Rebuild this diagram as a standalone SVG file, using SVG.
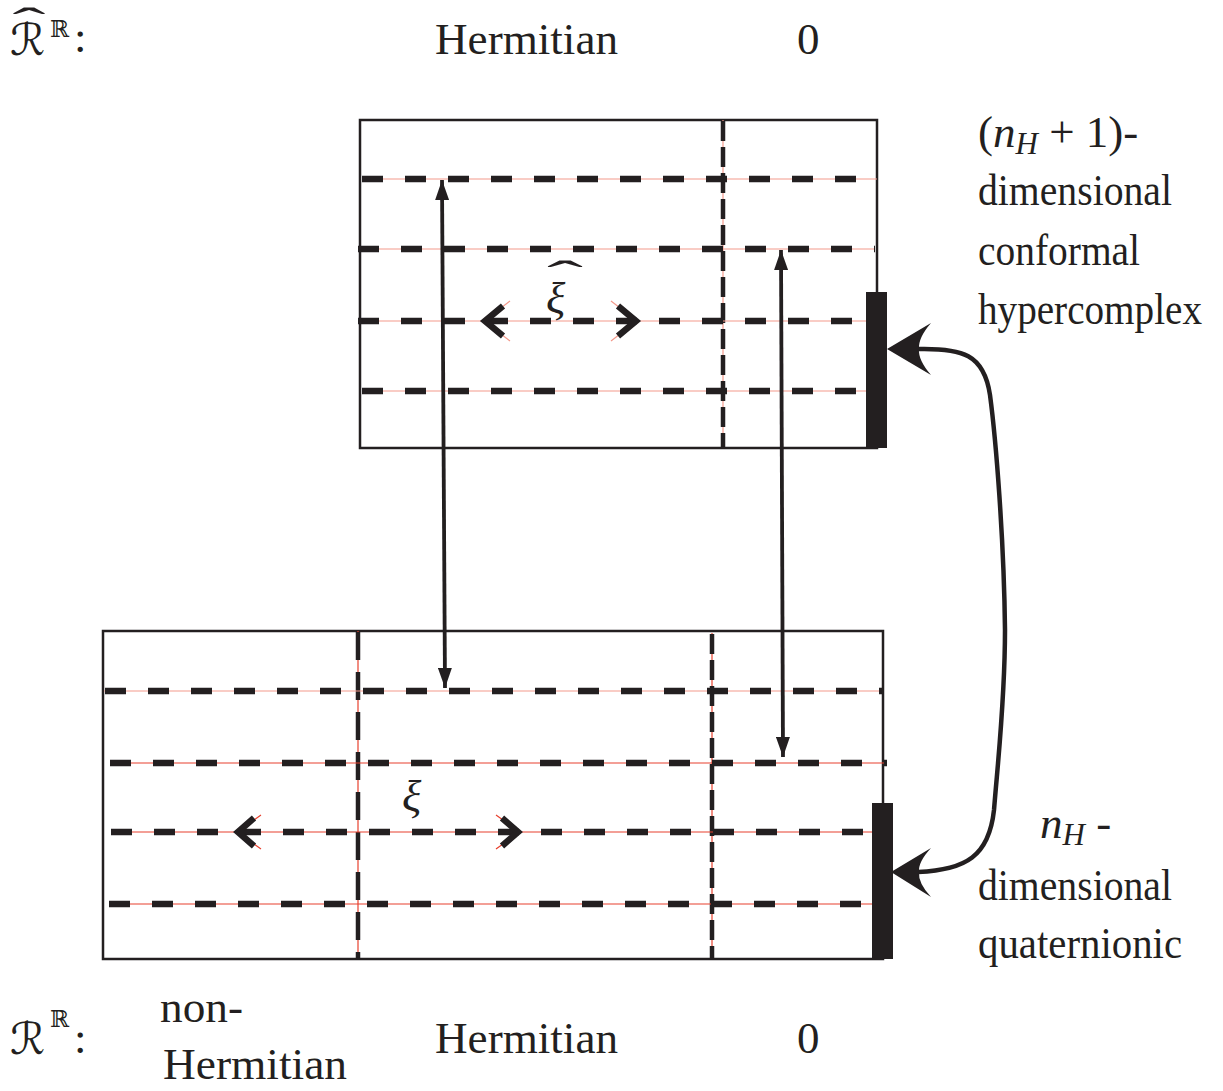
<svg xmlns="http://www.w3.org/2000/svg" width="1223" height="1091" viewBox="0 0 1223 1091">
<style>
.t{font-family:"Liberation Serif","Times New Roman",serif;font-size:45px;fill:#231f20}
.it{font-style:italic}
.sym{font-family:"DejaVu Serif","DejaVu Sans",serif;fill:#231f20}
.frame{fill:none;stroke:#231f20;stroke-width:2.5}
.bar{fill:#231f20}
.redt{stroke:#f39a8c;stroke-width:1.2;fill:none}
.redb{stroke:#e8412e;stroke-width:1.2;fill:none}
.hd{stroke:#231f20;stroke-width:6.5;stroke-dasharray:21 22;fill:none}
.vd{stroke:#231f20;stroke-width:4.5;stroke-dasharray:20 6;fill:none}
.vd2{stroke:#231f20;stroke-width:4.5;stroke-dasharray:28 12;fill:none}
.chev{stroke:#231f20;stroke-width:6.5;fill:none;stroke-linejoin:miter}
.conn{stroke:#231f20;stroke-width:3.8;fill:none}
.curve{stroke:#231f20;stroke-width:4.5;fill:none}
</style>
<defs>
<marker id="ah" viewBox="0 0 20 14" refX="20" refY="7" markerWidth="20" markerHeight="14" markerUnits="userSpaceOnUse" orient="auto-start-reverse">
<path d="M0,0 L20,7 L0,14 Z" fill="#231f20"/>
</marker>
</defs>
<rect width="1223" height="1091" fill="#ffffff"/>

<g id="labels-top">
<text class="sym" x="10" y="55" font-size="44" font-style="italic">ℛ</text>
<text class="t" transform="translate(29,38) scale(2.2,1)" text-anchor="middle" x="0" y="0">ˆ</text>
<text class="sym" x="50" y="37" font-size="23">ℝ</text>
<text class="t" x="74" y="52">:</text>
<text class="t" x="435" y="54" textLength="183" lengthAdjust="spacingAndGlyphs">Hermitian</text>
<text class="t" x="797" y="54">0</text>
</g>

<g id="labels-bottom">
<text class="sym" x="10" y="1054" font-size="44" font-style="italic">ℛ</text>
<text class="sym" x="50" y="1027" font-size="23">ℝ</text>
<text class="t" x="74" y="1053">:</text>
<text class="t" x="160" y="1022" textLength="83" lengthAdjust="spacingAndGlyphs">non-</text>
<text class="t" x="163" y="1079" textLength="184" lengthAdjust="spacingAndGlyphs">Hermitian</text>
<text class="t" x="435" y="1053" textLength="183" lengthAdjust="spacingAndGlyphs">Hermitian</text>
<text class="t" x="797" y="1053">0</text>
</g>

<g id="labels-right-top">
<text class="t" x="978" y="147">(<tspan class="it">n</tspan><tspan class="it" font-size="31" dy="7">H</tspan><tspan dy="-7"> + 1)-</tspan></text>
<text class="t" x="978" y="205" textLength="194" lengthAdjust="spacingAndGlyphs">dimensional</text>
<text class="t" x="978" y="265" textLength="162" lengthAdjust="spacingAndGlyphs">conformal</text>
<text class="t" x="978" y="324" textLength="224" lengthAdjust="spacingAndGlyphs">hypercomplex</text>
</g>

<g id="labels-right-bottom">
<text class="t" x="1040" y="838"><tspan class="it">n</tspan><tspan class="it" font-size="31" dy="7">H</tspan><tspan dy="-7"> -</tspan></text>
<text class="t" x="978" y="900" textLength="194" lengthAdjust="spacingAndGlyphs">dimensional</text>
<text class="t" x="978" y="958" textLength="204" lengthAdjust="spacingAndGlyphs">quaternionic</text>
</g>

<g id="top-box">
<rect class="frame" x="360" y="120" width="517" height="328"/>
<line class="redt" x1="723" y1="120" x2="723" y2="448"/>
<line class="vd" x1="723" y1="121" x2="723" y2="448"/>
<line class="redt" x1="362" y1="179" x2="877" y2="179"/>
<line class="hd" x1="362" y1="179" x2="877" y2="179"/>
<line class="redt" x1="358" y1="249" x2="875" y2="249"/>
<line class="hd" x1="358" y1="249" x2="875" y2="249"/>
<line class="redt" x1="358" y1="321" x2="867" y2="321"/>
<line class="hd" x1="358" y1="321" x2="867" y2="321"/>
<line class="redt" x1="362" y1="391" x2="867" y2="391"/>
<line class="hd" x1="362" y1="391" x2="867" y2="391"/>
<rect class="bar" x="866" y="292" width="21" height="156"/>
<path class="redt" d="M510,301 L484,321 L510,341 M611,301 L637,321 L611,341"/>
<polyline class="chev" points="503,306 485,321 503,336"/>
<polyline class="chev" points="618,306 636,321 618,336"/>
<text class="t it" x="546" y="313" font-size="54">ξ</text>
<text class="t" transform="translate(565,291) scale(2.4,1)" text-anchor="middle" x="0" y="0">ˆ</text>
</g>

<g id="bottom-box">
<rect class="frame" x="103" y="631" width="780" height="328"/>
<line class="redb" x1="358" y1="631" x2="358" y2="959"/>
<line class="vd2" x1="358" y1="632" x2="358" y2="959"/>
<line class="redb" x1="712" y1="633" x2="712" y2="959"/>
<line class="vd" x1="712" y1="634" x2="712" y2="959"/>
<line class="redt" x1="104" y1="691" x2="883" y2="691"/>
<line class="hd" x1="105" y1="691" x2="883" y2="691"/>
<line class="redb" x1="110" y1="763" x2="887" y2="763"/>
<line class="hd" x1="110" y1="763" x2="887" y2="763"/>
<line class="redb" x1="111" y1="832" x2="873" y2="832"/>
<line class="hd" x1="111" y1="832" x2="873" y2="832"/>
<line class="redb" x1="109" y1="904" x2="893" y2="904"/>
<line class="hd" x1="109" y1="904" x2="893" y2="904"/>
<rect class="bar" x="872" y="803" width="21" height="156"/>
<path class="redb" d="M261,815 L237,832 L261,849 M496,815 L520,832 L496,849"/>
<polyline class="chev" points="254,818 238,832 254,846"/>
<polyline class="chev" points="502,818 518,832 502,846"/>
<text class="t it" x="402" y="811" font-size="54">ξ</text>
</g>

<g id="connectors">
<line class="conn" x1="442" y1="180" x2="445" y2="688" marker-start="url(#ah)" marker-end="url(#ah)"/>
<line class="conn" x1="781" y1="250" x2="783" y2="757" marker-start="url(#ah)" marker-end="url(#ah)"/>
<path class="curve" d="M918,349 C962,348 984,354 990,395 C996,440 1004,540 1005,630 C1005,700 998,760 994,810 C989,856 966,870 918,872"/>
<path class="bar" d="M887,349 L931,323 Q918,338 919,349 Q918,360 931,375 Z"/>
<path class="bar" d="M891,872 L931,848 Q918,862 919,872 Q918,883 931,897 Z"/>
</g>
</svg>
